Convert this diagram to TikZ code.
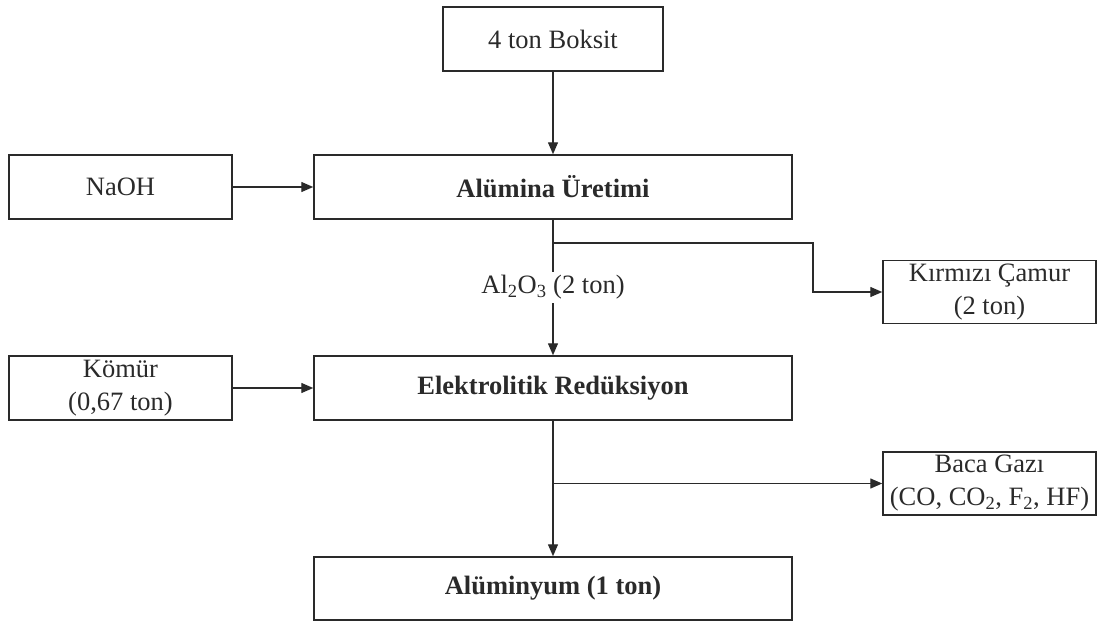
\documentclass[tikz,border=0pt]{standalone}
\usepackage{fontspec}
\setmainfont{Liberation Serif}
\usetikzlibrary{arrows.meta}
\definecolor{ink}{HTML}{2A2A2A}

\begin{document}
\begin{tikzpicture}[x=1pt,y=-1pt,>={Triangle[length=12pt,width=10pt]},
  box/.style={draw=ink,line width=1.5pt,text=ink,minimum height=64pt,inner sep=2pt,align=center,
    font=\fontsize{26.5}{33}\selectfont},
  flow/.style={->,draw=ink,line width=1.4pt}]

\useasboundingbox (0,0) rectangle (1097,621);

\node[box,minimum width=220pt] (boksit) at (553,39) {4 ton Boksit};
\node[box,minimum width=223pt] (naoh) at (120.5,187) {NaOH};
\node[box,minimum width=478pt,font=\fontsize{26.5}{33}\selectfont\bfseries] (alumina) at (553,187) {Alümina Üretimi};
\node[box,minimum width=213pt,minimum height=63pt] (camur) at (989.5,292) {Kırmızı Çamur\\(2 ton)};
\node[box,minimum width=223pt] (komur) at (120.5,388) {Kömür\\(0,67 ton)};
\node[box,minimum width=478pt,font=\fontsize{26.5}{33}\selectfont\bfseries] (elektro) at (553,388) {Elektrolitik Redüksiyon};
\node[box,minimum width=213pt,minimum height=63pt] (baca) at (989.5,483.5) {Baca Gazı\\(CO, CO\textsubscript{2}, F\textsubscript{2}, HF)};
\node[box,minimum width=478pt,minimum height=63pt,font=\fontsize{26.5}{33}\selectfont\bfseries] (aluminyum) at (553,588.5) {Alüminyum (1 ton)};

\coordinate (b1) at (553,243);
\coordinate (c1) at (813,292);
\coordinate (b2) at (553,483.5);

\draw[flow] (boksit) -- (alumina);
\draw[flow] (naoh) -- (alumina);
\draw[flow] (alumina) -- node[fill=white,text=ink,inner sep=3pt,font=\fontsize{26.5}{33}\selectfont] (oxide) {Al\textsubscript{2}O\textsubscript{3} (2 ton)} (elektro);
\draw[flow] (b1) -| (c1) -- (camur);
\draw[flow] (komur) -- (elektro);
\draw[flow] (elektro) -- (aluminyum);
\draw[flow] (b2) -- (baca);

\end{tikzpicture}
\end{document}
